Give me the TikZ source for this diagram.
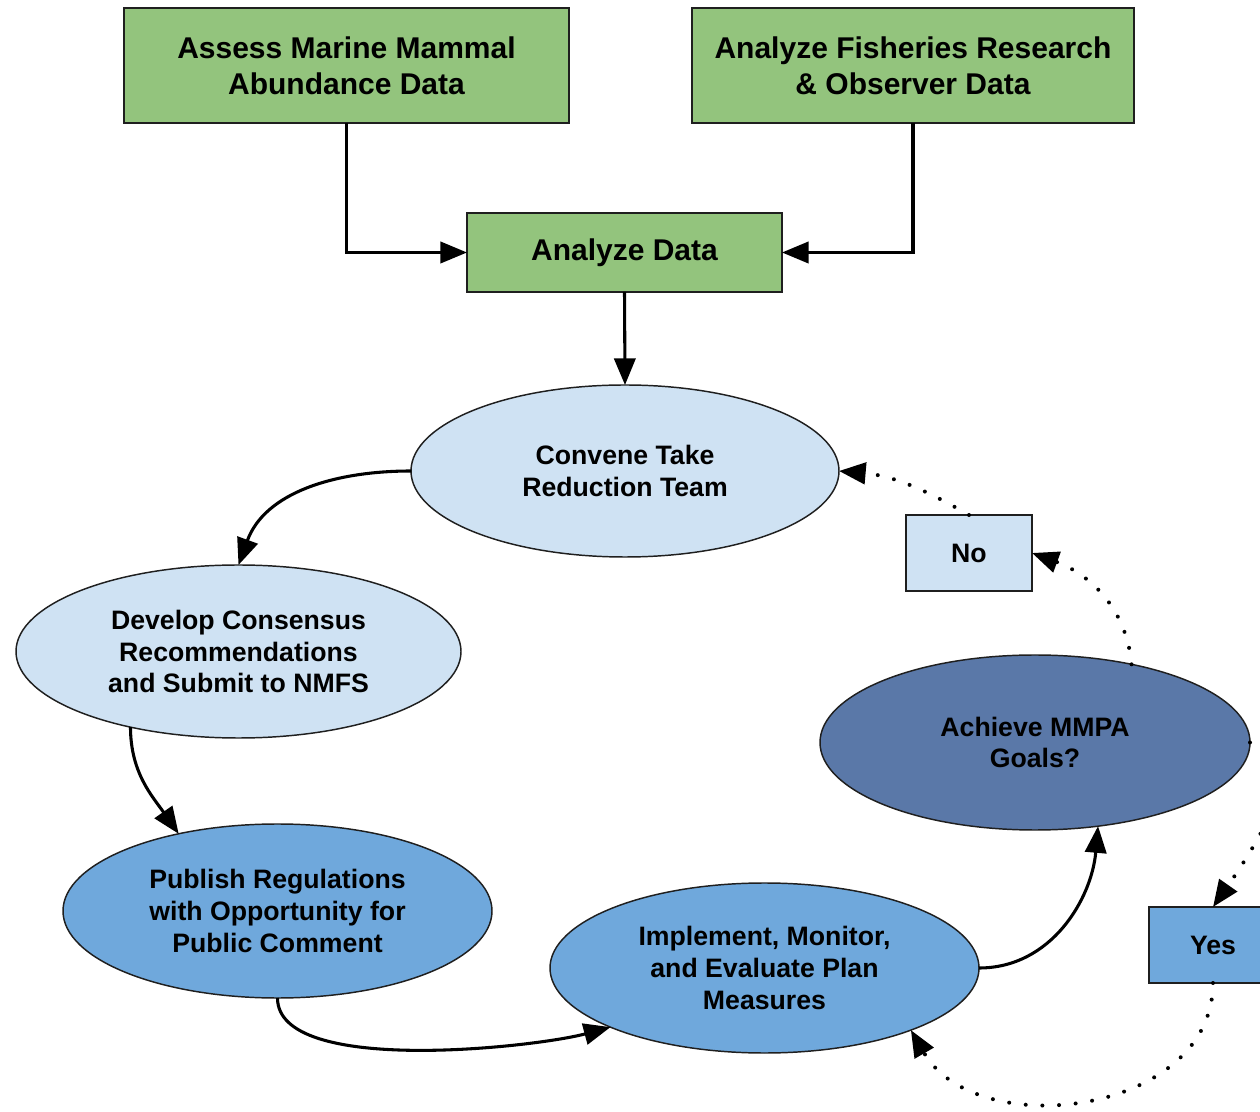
\documentclass[tikz,border=0pt]{standalone}
\usepackage{fontspec}
\setmainfont{Liberation Sans}
\usetikzlibrary{shapes.geometric,arrows.meta}
\definecolor{boxgreen}{HTML}{93C47D}
\definecolor{paleblue}{HTML}{CFE2F3}
\definecolor{midblue}{HTML}{6FA8DC}
\definecolor{darkblue}{HTML}{5A78A8}
\definecolor{edgecol}{HTML}{1F1F1F}
\begin{document}
\begin{tikzpicture}[x=0.75pt,y=0.75pt,
  every node/.style={text=black, align=center, inner sep=0pt, outer sep=0pt},
  bigtxt/.style={font=\fontsize{22.5}{27}\selectfont\bfseries},
  midtxt/.style={font=\fontsize{20}{23.7}\selectfont\bfseries},
  gbox/.style={rectangle, draw=edgecol, line width=1.5pt, fill=boxgreen, bigtxt},
  sbox/.style={rectangle, draw=edgecol, line width=1.5pt, midtxt, minimum width=94.5pt, minimum height=57pt},
  oval/.style={ellipse, draw=edgecol, line width=1.1pt, midtxt},
  conn/.style={line width=2.3pt, draw=black, -{Triangle[length=20pt,width=16pt]}},
  dotconn/.style={line width=3pt, draw=black, dash pattern=on 0pt off 12.5pt, line cap=round, -{Triangle[length=20pt,width=16pt]}}
]
\useasboundingbox (0,0) rectangle (1260,1111);
\clip (0,0) rectangle (1260,1111);

% top boxes
\node[gbox, minimum width=333.75pt, minimum height=86.25pt] (assess) at (346.5,1045.5) {Assess Marine Mammal\\Abundance Data};
\node[gbox, minimum width=331.5pt, minimum height=86.25pt] (fish) at (913,1045.5) {Analyze Fisheries Research\\\& Observer Data};
\node[gbox, minimum width=236.25pt, minimum height=59.25pt] (anal) at (624.5,858.5) {Analyze Data};

% ellipses
\node[oval, fill=paleblue, minimum width=321pt, minimum height=129pt] (conv) at (625,640) {Convene Take\\Reduction Team};
\node[oval, fill=paleblue, minimum width=333.75pt, minimum height=129.75pt] (dev) at (238.5,459.5) {Develop Consensus\\Recommendations\\and Submit to NMFS};
\node[oval, fill=midblue, minimum width=321.75pt, minimum height=130.5pt] (pub) at (277.5,200) {Publish Regulations\\with Opportunity for\\Public Comment};
\node[oval, fill=midblue, minimum width=321.75pt, minimum height=127.5pt] (impl) at (764.5,143) {Implement, Monitor,\\and Evaluate Plan\\Measures};
\node[oval, fill=darkblue, minimum width=322.5pt, minimum height=131.25pt] (ach) at (1035,368.5) {Achieve MMPA\\Goals?};

% decision boxes
\node[sbox, fill=paleblue] (no) at (969,558) {No};
\node[sbox, fill=midblue, minimum width=96pt] (yes) at (1213,166) {Yes};

% solid connectors
\draw[conn] (assess.south) |- (anal.west);
\draw[conn] (fish.south) |- (anal.east);
\draw[conn] (anal.south) -- (conv.north);
\draw[conn] (conv.west) to[out=180,in=70] (dev.north);
\draw[conn] (dev.215) to[out=-90,in=125] (pub.142);
\draw[conn] (pub.south) to[out=-90,in=195,looseness=0.6] (impl.201);
\draw[conn] (impl.east) to[out=0,in=-95] (ach.-53);

% dotted connectors
\draw[dotconn] (ach.39) to[out=95,in=-20] (no.east);
\draw[dotconn] (no.north) to[out=150,in=-5] (conv.east);
\draw[dotconn] (ach.east) to[out=0,in=55,looseness=1.1] (yes.north);
\draw[dotconn] (yes.south) to[out=-90,in=-60,looseness=1.1] (impl.-23);
\end{tikzpicture}
\end{document}
